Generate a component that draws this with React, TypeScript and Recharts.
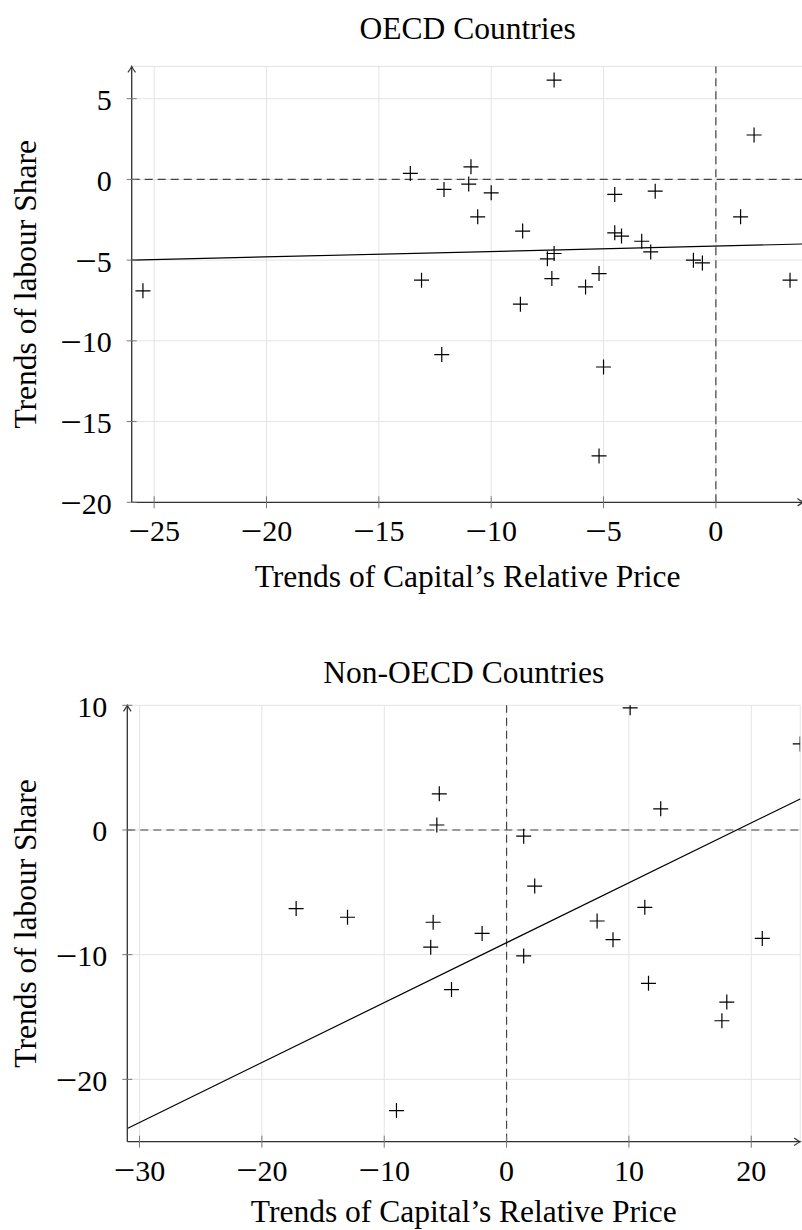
import React from 'react';
import { ScatterChart, Scatter, XAxis, YAxis, CartesianGrid, ReferenceLine } from 'recharts';

// OECD: trend of capital's relative price (x) and of the labour share (y)
const oecdPriceTrend = [
  -7.2, 1.7, -13.6, -10.9, -12.1, -11.0, -10.0, -4.5, -2.7, -10.6,
  1.1, -8.6, -4.5, -4.2, -3.3, -2.9, -7.2, -7.5, -1.0, -0.6,
  -13.1, -7.3, -5.2, -5.8, 3.3, -8.7, -25.5, -12.2, -5.0, -5.2,
];
const oecdLabourTrend = [
  6.15, 2.75, 0.37, 0.78, -0.62, -0.29, -0.83, -0.93, -0.73, -2.32,
  -2.32, -3.2, -3.31, -3.51, -3.83, -4.49, -4.59, -4.92, -5.0, -5.17,
  -6.24, -6.14, -5.83, -6.66, -6.24, -7.73, -6.9, -10.85, -11.62, -17.13,
];

// Non-OECD
const nonOecdPriceTrend = [
  -17.2, -13.0, 10.1, 24.0, -5.5, -5.7, 12.6, 1.4, 2.3, 11.3, 7.4,
  -6.0, -2.0, 8.7, 20.9, -6.2, 1.4, -4.5, 11.6, 18.0, 17.6, -9.0,
];
const nonOecdLabourTrend = [
  -6.3, -7.0, 9.8, 6.9, 2.9, 0.4, 1.7, -0.5, -4.5, -6.2, -7.3,
  -7.4, -8.3, -8.8, -8.7, -9.4, -10.1, -12.8, -12.3, -13.8, -15.3, -22.5,
];

// linear fits
const oecdFit = { intercept: -4.13, slope: 0.0335 };
const nonOecdFit = { intercept: -9.04, slope: 0.4805 };

const oecdXTicks = [-25, -20, -15, -10, -5, 0];
const oecdYTicks = [-20, -15, -10, -5, 0, 5];
const nonOecdXTicks = [-30, -20, -10, 0, 10, 20];
const nonOecdYTicks = [-20, -10, 0, 10];

const FONT = '"Liberation Serif", "Times New Roman", Times, serif';
const AXIS = '#333';
const X_AXIS_H = 60;
const Y_AXIS_W = 110;

// math-style minus: a bit longer than the text one
const TickValue = ({ v }: { v: number }) =>
  v < 0 ? (
    <>
      <tspan fontSize={38} dy={2.4}>{'\u2212'}</tspan>
      <tspan dy={-2.4}>{Math.abs(v)}</tspan>
    </>
  ) : (
    <tspan>{v}</tspan>
  );

const XTick = (props: any) => {
  const { x, y, payload } = props;
  return (
    <g>
      <line x1={x} x2={x} y1={y - 6} y2={y + 6} stroke="#777" strokeWidth={1} />
      <text x={x} y={y + 39} textAnchor="middle" fontSize={30} fontFamily={FONT} fill="#000">
        <TickValue v={payload.value} />
      </text>
    </g>
  );
};

const YTick = (props: any) => {
  const { x, y, payload } = props;
  return (
    <g>
      <line x1={x - 5} x2={x + 5} y1={y} y2={y} stroke="#777" strokeWidth={1} />
      <text x={x - 20} y={y + 11.5} textAnchor="end" fontSize={30} fontFamily={FONT} fill="#000">
        <TickValue v={payload.value} />
      </text>
    </g>
  );
};

const Plus = (props: any) => {
  const { cx, cy } = props;
  if (cx == null || cy == null) return <g />;
  return (
    <path
      d={`M${cx - 7.5},${cy}H${cx + 7.5}M${cx},${cy - 7.5}V${cy + 7.5}`}
      stroke="#000"
      strokeWidth={1.2}
      fill="none"
    />
  );
};

type Plot = { left: number; top: number; width: number; height: number };

type PanelProps = {
  top: number;
  width: number;
  height: number;
  plot: Plot;
  title: string;
  titleY: number;
  xLabelY: number;
  xs: number[];
  ys: number[];
  fit: { intercept: number; slope: number };
  xDomain: [number, number];
  yDomain: [number, number];
  xTicks: number[];
  yTicks: number[];
};

const Panel = (p: PanelProps) => {
  const points = p.xs.map((x, i) => ({ x, y: p.ys[i] }));
  const fitAt = (x: number) => p.fit.intercept + p.fit.slope * x;
  const cx = p.plot.left + p.plot.width / 2;
  const cy = p.plot.top + p.plot.height / 2;
  const labelStyle = { fontSize: 31.5, fontFamily: FONT, fill: '#000' };

  return (
    <div style={{ position: 'absolute', left: 0, top: p.top, width: p.width, height: p.height }}>
      <ScatterChart
        width={p.width}
        height={p.height}
        margin={{
          top: p.plot.top,
          left: p.plot.left - Y_AXIS_W,
          right: p.width - p.plot.left - p.plot.width,
          bottom: p.height - p.plot.top - p.plot.height - X_AXIS_H,
        }}
      >
        <CartesianGrid stroke="#e4e4e4" strokeWidth={1} />
        <XAxis
          type="number"
          dataKey="x"
          domain={p.xDomain}
          ticks={p.xTicks}
          allowDataOverflow
          interval={0}
          height={X_AXIS_H}
          tickSize={0}
          tickMargin={0}
          tick={<XTick />}
          stroke={AXIS}
          axisLine={{ stroke: AXIS, strokeWidth: 1.3, markerEnd: 'url(#axisArrow)' }}
        />
        <YAxis
          type="number"
          dataKey="y"
          domain={p.yDomain}
          ticks={p.yTicks}
          allowDataOverflow
          interval={0}
          width={Y_AXIS_W}
          tickSize={0}
          tickMargin={0}
          tick={<YTick />}
          stroke={AXIS}
          axisLine={{ stroke: AXIS, strokeWidth: 1.3, markerStart: 'url(#axisArrow)' }}
        />
        <ReferenceLine y={0} stroke="#444" strokeWidth={1.2} strokeDasharray="8 5" />
        <ReferenceLine x={0} stroke="#444" strokeWidth={1.2} strokeDasharray="8 5" />
        <ReferenceLine
          segment={[
            { x: p.xDomain[0], y: fitAt(p.xDomain[0]) },
            { x: p.xDomain[1], y: fitAt(p.xDomain[1]) },
          ]}
          stroke="#000"
          strokeWidth={1.2}
          ifOverflow="visible"
        />
        <Scatter data={points} shape={<Plus />} isAnimationActive={false} />
      </ScatterChart>
      <svg
        width={p.width}
        height={p.height}
        style={{ position: 'absolute', left: 0, top: 0, pointerEvents: 'none' }}
      >
        <text x={cx} y={p.titleY} textAnchor="middle" {...labelStyle}>
          {p.title}
        </text>
        <text x={cx} y={p.xLabelY} textAnchor="middle" {...labelStyle}>
          Trends of Capital’s Relative Price
        </text>
        <text x={0} y={0} textAnchor="middle" transform={`translate(36, ${cy}) rotate(-90)`} {...labelStyle}>
          Trends of labour Share
        </text>
      </svg>
    </div>
  );
};

export default function App() {
  return (
    <div
      style={{
        position: 'absolute',
        left: 0,
        top: 0,
        width: 802,
        height: 1230,
        overflow: 'hidden',
        background: '#fff',
      }}
    >
      <svg width={0} height={0} style={{ position: 'absolute' }}>
        <defs>
          <marker
            id="axisArrow"
            viewBox="-8 -5 10 10"
            refX={0}
            refY={0}
            markerWidth={10}
            markerHeight={10}
            markerUnits="userSpaceOnUse"
            orient="auto-start-reverse"
          >
            <path d="M-6,-3.8 Q-2,-0.8 0,0 Q-2,0.8 -6,3.8" fill="none" stroke={AXIS} strokeWidth={1.2} />
          </marker>
        </defs>
      </svg>
      <Panel
        top={0}
        width={808}
        height={600}
        plot={{ left: 131.7, top: 66.4, width: 671.8, height: 435.9 }}
        title="OECD Countries"
        titleY={39.3}
        xLabelY={587}
        xs={oecdPriceTrend}
        ys={oecdLabourTrend}
        fit={oecdFit}
        xDomain={[-26, 3.9]}
        yDomain={[-20, 7]}
        xTicks={oecdXTicks}
        yTicks={oecdYTicks}
      />
      <Panel
        top={640}
        width={812}
        height={590}
        plot={{ left: 127.3, top: 65.3, width: 672.9, height: 436.4 }}
        title="Non-OECD Countries"
        titleY={43}
        xLabelY={582}
        xs={nonOecdPriceTrend}
        ys={nonOecdLabourTrend}
        fit={nonOecdFit}
        xDomain={[-31, 24]}
        yDomain={[-25, 10]}
        xTicks={nonOecdXTicks}
        yTicks={nonOecdYTicks}
      />
    </div>
  );
}
